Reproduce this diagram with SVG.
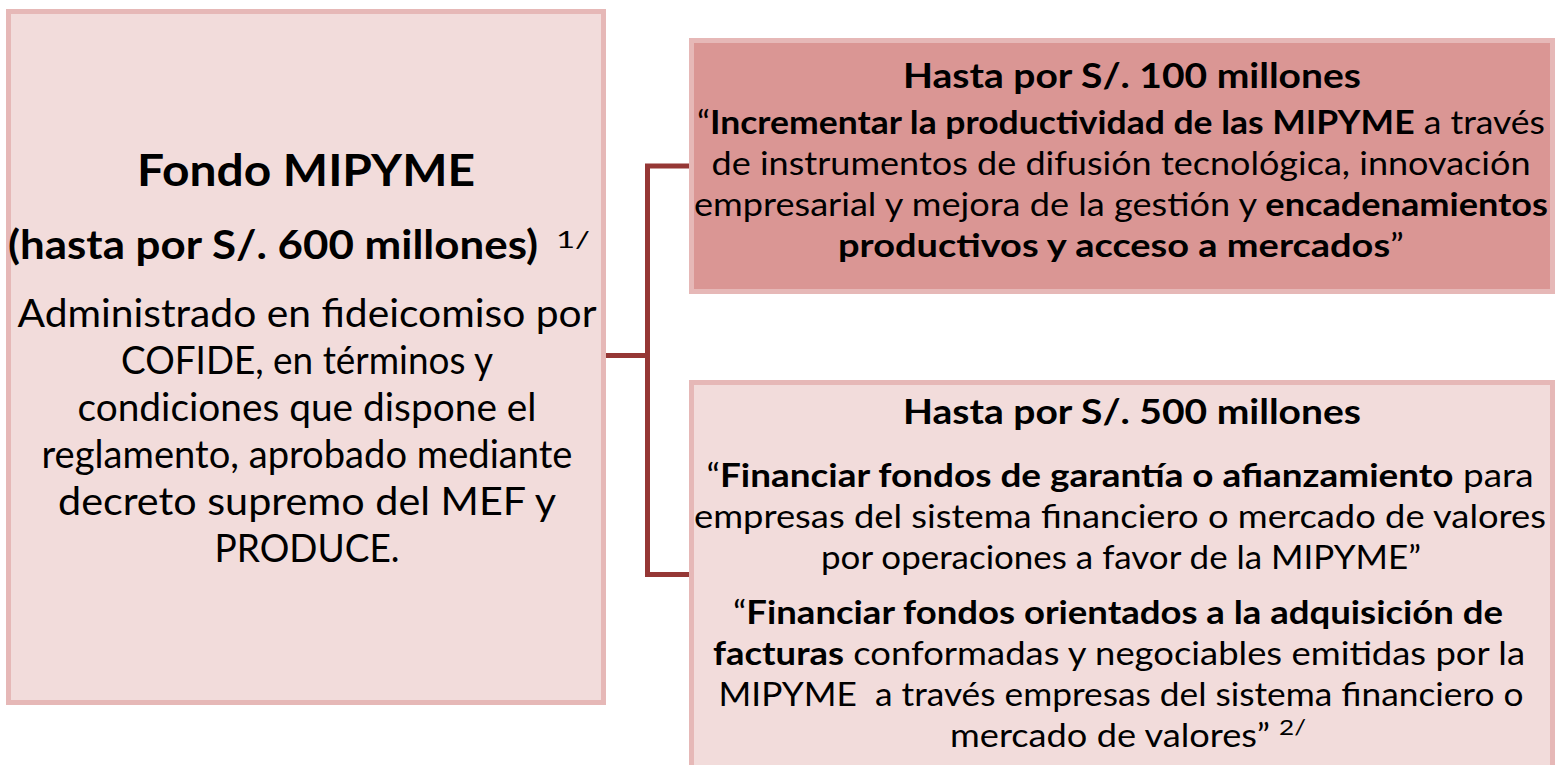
<svg xmlns="http://www.w3.org/2000/svg" width="1557" height="765" viewBox="0 0 1557 765">
<style>
.t{font-family:Lato,"Open Sans","Liberation Sans",sans-serif;fill:#000}
.b{font-weight:bold}
.box{stroke:#E6B8B7;stroke-width:5}
.light{fill:#F2DCDB}
.dark{fill:#DA9694}
.conn{fill:none;stroke:#953735;stroke-width:5}
</style>
<rect width="1557" height="765" fill="#FFFFFF"/>
<g id="connectors">
<path class="conn" d="M606 355.5 H647.5"/>
<path class="conn" d="M690 166 H647.5 V574.5 H690"/>
</g>
<g id="fondo">
<rect class="box light" x="8.5" y="11.5" width="595" height="691"/>
<text class="t b" x="306" y="186" font-size="44" text-anchor="middle" textLength="338" lengthAdjust="spacingAndGlyphs">Fondo MIPYME</text>
<text class="t b" x="8" y="259" font-size="40" textLength="530" lengthAdjust="spacingAndGlyphs">(hasta por S/. 600 millones)</text>
<text class="t" x="556" y="248" font-size="24" textLength="34" lengthAdjust="spacingAndGlyphs">1/</text>
<g font-size="39" text-anchor="middle">
<text class="t" x="307" y="327" textLength="579" lengthAdjust="spacingAndGlyphs">Administrado en fideicomiso por</text>
<text class="t" x="307" y="374" textLength="372" lengthAdjust="spacingAndGlyphs">COFIDE, en términos y</text>
<text class="t" x="307" y="421" textLength="459" lengthAdjust="spacingAndGlyphs">condiciones que dispone el</text>
<text class="t" x="307" y="468" textLength="531" lengthAdjust="spacingAndGlyphs">reglamento, aprobado mediante</text>
<text class="t" x="307" y="515" textLength="498" lengthAdjust="spacingAndGlyphs">decreto supremo del MEF y</text>
<text class="t" x="307" y="562" textLength="185" lengthAdjust="spacingAndGlyphs">PRODUCE.</text>
</g>
</g>
<g id="hasta100">
<rect class="box dark" x="691.5" y="40.5" width="861" height="251"/>
<text class="t b" x="1132" y="88" font-size="34" text-anchor="middle" textLength="458" lengthAdjust="spacingAndGlyphs">Hasta por S/. 100 millones</text>
<g font-size="32" text-anchor="middle">
<text class="t" x="1121" y="134" textLength="848" lengthAdjust="spacingAndGlyphs">“<tspan class="b">Incrementar la productividad de las MIPYME</tspan> a través</text>
<text class="t" x="1121" y="175" textLength="819" lengthAdjust="spacingAndGlyphs">de instrumentos de difusión tecnológica, innovación</text>
<text class="t" x="1121" y="216" textLength="854" lengthAdjust="spacingAndGlyphs">empresarial y mejora de la gestión y <tspan class="b">encadenamientos</tspan></text>
<text class="t" x="1121" y="257" textLength="566" lengthAdjust="spacingAndGlyphs"><tspan class="b">productivos y acceso a mercados</tspan>”</text>
</g>
</g>
<g id="hasta500">
<rect class="box light" x="691.5" y="382.5" width="861" height="400"/>
<text class="t b" x="1132" y="424" font-size="34" text-anchor="middle" textLength="458" lengthAdjust="spacingAndGlyphs">Hasta por S/. 500 millones</text>
<g font-size="32" text-anchor="middle">
<text class="t" x="1120" y="487" textLength="827" lengthAdjust="spacingAndGlyphs">“<tspan class="b">Financiar fondos de garantía o afianzamiento</tspan> para</text>
<text class="t" x="1120" y="528" textLength="852" lengthAdjust="spacingAndGlyphs">empresas del sistema financiero o mercado de valores</text>
<text class="t" x="1121" y="569" textLength="600" lengthAdjust="spacingAndGlyphs">por operaciones a favor de la MIPYME”</text>
<text class="t" x="1118" y="624" textLength="770" lengthAdjust="spacingAndGlyphs">“<tspan class="b">Financiar fondos orientados a la adquisición de</tspan></text>
<text class="t" x="1119" y="665" textLength="812" lengthAdjust="spacingAndGlyphs"><tspan class="b">facturas</tspan> conformadas y negociables emitidas por la</text>
<text class="t" x="1121" y="706" textLength="805" lengthAdjust="spacingAndGlyphs" xml:space="preserve">MIPYME  a través empresas del sistema financiero o</text>
</g>
<text class="t" x="950" y="747" font-size="32" textLength="320" lengthAdjust="spacingAndGlyphs">mercado de valores”</text>
<text class="t" x="1279" y="735" font-size="21" textLength="27" lengthAdjust="spacingAndGlyphs">2/</text>
</g>
</svg>
